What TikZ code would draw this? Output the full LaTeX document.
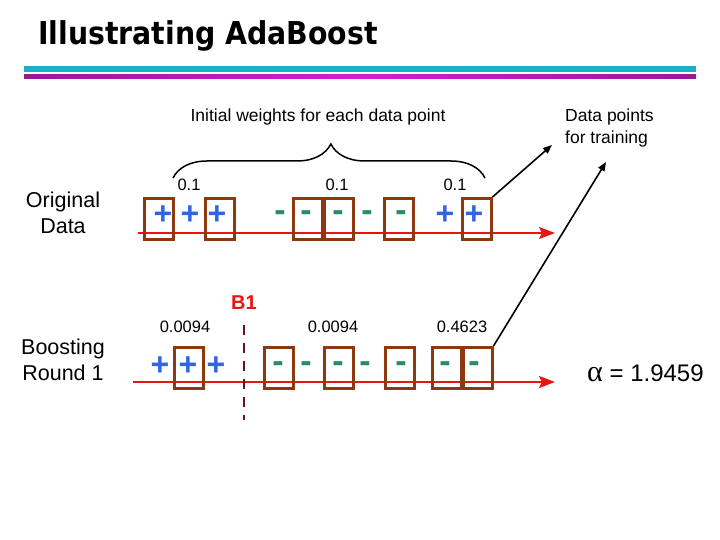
\documentclass[tikz,border=0pt]{standalone}
\usepackage{fontspec}
\setmainfont{Liberation Sans}
\newfontfamily\titlefont[FakeStretch=0.9]{DejaVu Sans}
\newfontfamily\greekfont{Liberation Serif}
\usepackage{tikz}
\usetikzlibrary{arrows.meta, positioning, decorations.pathreplacing}
\definecolor{mybrown}{RGB}{140,56,16}
\definecolor{myblue}{RGB}{50,100,230}
\definecolor{mygreen}{RGB}{40,140,100}
\definecolor{myred}{RGB}{235,20,20}
\definecolor{mydash}{RGB}{100,20,30}
\definecolor{mycyan}{RGB}{25,175,205}
\definecolor{mypurple}{RGB}{150,25,150}
\definecolor{mymagenta}{RGB}{210,30,210}
\tikzset{
  databox/.style={rectangle, draw=mybrown, line width=3pt,
    minimum width=29pt, minimum height=41pt, inner sep=0pt},
  plussign/.style={anchor=base, inner sep=0pt, text=myblue,
    font=\fontsize{32}{32}\selectfont\bfseries},
  minussign/.style={anchor=base, inner sep=0pt, text=mygreen, yshift=3pt,
    font=\fontsize{34}{34}\selectfont\bfseries},
  wlabel/.style={inner sep=0pt, font=\fontsize{16.5}{18}\selectfont},
  rowlabel/.style={inner sep=0pt, align=center, font=\fontsize{21.5}{25.5}\selectfont},
  axis/.style={-{Stealth[length=16pt, width=12pt, inset=3pt]}, line width=2pt, color=myred},
  arrow/.style={-{Triangle[length=9pt, width=7pt]}, line width=1.6pt, color=black}
}
\begin{document}
\begin{tikzpicture}[x=1pt, y=-1pt]
  \useasboundingbox[fill=white] (0,0) rectangle (720,540);

  % title and rules
  \node[anchor=base west, inner sep=0pt, font=\titlefont\fontsize{31.5}{32}\selectfont\bfseries] (title) at (38,45) {Illustrating AdaBoost};
  \fill[mycyan] (24,66) rectangle (696,72);
  \shade[left color=mypurple, right color=mypurple, middle color=mymagenta] (24,75) rectangle (696,79);

  % headings
  \node[inner sep=0pt, font=\fontsize{17.5}{20}\selectfont] (weights) at (318,117) {Initial weights for each data point};
  \node[anchor=west, inner sep=0pt, align=left, font=\fontsize{17.5}{22}\selectfont] (train) at (565,128) {Data points\\for training};
  \draw[line width=1.5pt, decorate, decoration={brace, amplitude=34pt, aspect=0.506}] (173,178) -- (485,178);

  % original data
  \node[rowlabel] (orig) at (63,213) {Original\\Data};
  \draw[axis] (138,233) -- (555,233);
  \node[databox] (a1) at (159,219) {};
  \node[databox] (a2) at (219.5,219) {};
  \node[databox] (a3) at (307.5,219) {};
  \node[databox] (a4) at (338.5,219) {};
  \node[databox] (a5) at (398.5,219) {};
  \node[databox] (a6) at (476.5,219) {};
  \node[plussign] (ap1) at (163,225) {+};
  \node[plussign] (ap2) at (190,225) {+};
  \node[plussign] (ap3) at (217,225) {+};
  \node[minussign] (an1) at (280,225) {-};
  \node[minussign] (an2) at (306,225) {-};
  \node[minussign] (an3) at (338,225) {-};
  \node[minussign] (an4) at (367,225) {-};
  \node[minussign] (an5) at (401,225) {-};
  \node[plussign] (ap4) at (445,225) {+};
  \node[plussign] (ap5) at (474,225) {+};
  \node[wlabel] (aw1) at (189,185) {0.1};
  \node[wlabel] (aw2) at (337,185) {0.1};
  \node[wlabel] (aw3) at (455,185) {0.1};

  % boosting round 1
  \node[rowlabel] (round) at (63,360) {Boosting\\Round 1};
  \draw[axis] (133,382) -- (555,382);
  \node[databox] (b1) at (189,368) {};
  \node[databox] (b2) at (279,368) {};
  \node[databox] (b3) at (339,368) {};
  \node[databox] (b4) at (399.5,368) {};
  \node[databox] (b5) at (446.5,368) {};
  \node[databox] (b6) at (477.5,368) {};
  \node[plussign] (bp1) at (160,375) {+};
  \node[plussign] (bp2) at (188,375) {+};
  \node[plussign] (bp3) at (216,375) {+};
  \node[minussign] (bn1) at (278,375) {-};
  \node[minussign] (bn2) at (306,375) {-};
  \node[minussign] (bn3) at (338,375) {-};
  \node[minussign] (bn4) at (365,375) {-};
  \node[minussign] (bn5) at (401,375) {-};
  \node[minussign] (bn6) at (445,375) {-};
  \node[minussign] (bn7) at (474,375) {-};
  \node[wlabel] (bw1) at (185,327) {0.0094};
  \node[wlabel] (bw2) at (333,327) {0.0094};
  \node[wlabel] (bw3) at (462,327) {0.4623};
  \coordinate (cut top) at (244,325);
  \coordinate (cut bot) at (244,420);
  \draw[mydash, line width=2.8pt, dash pattern=on 10pt off 8pt] (cut top) -- (cut bot);
  \node[inner sep=0pt, text=myred, font=\fontsize{20}{20}\selectfont\bfseries] (stump) at (244,303) {B1};
  \node[anchor=west, inner sep=0pt, font=\fontsize{24}{24}\selectfont] (alpha) at (587,373) {{\greekfont\fontsize{30}{30}\selectfont α} = 1.9459};

  % pointers
  \coordinate (dp1) at (552,145);
  \coordinate (dp2) at (606,162);
  \draw[arrow] (a6.north east) -- (dp1);
  \draw[arrow] (b6.north east) -- (dp2);
\end{tikzpicture}
\end{document}
